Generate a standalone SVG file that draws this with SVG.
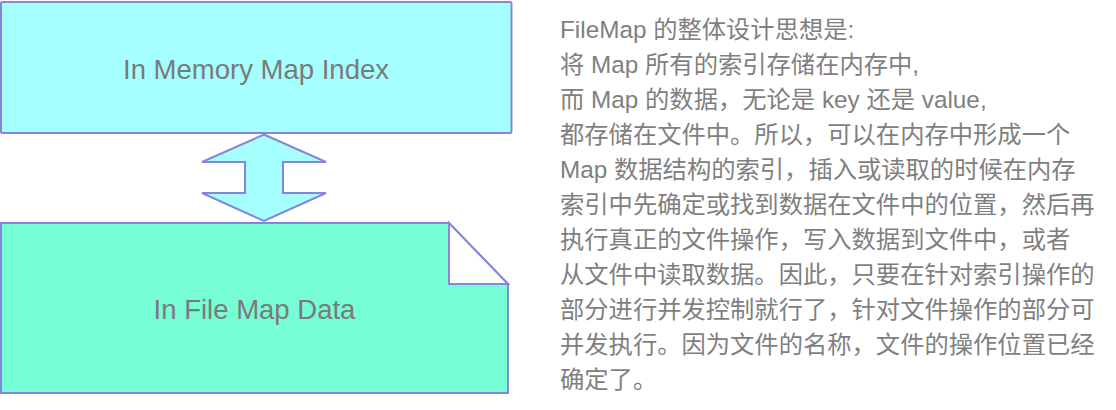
<svg xmlns="http://www.w3.org/2000/svg" width="1116" height="410" viewBox="0 0 1116 410">
<style>
.shape{stroke:#8585DD;stroke-width:2;stroke-linejoin:miter}
.lbl{font-family:"Liberation Sans","Noto Sans CJK SC",sans-serif;font-size:27.5px;fill:#7a7a7a;text-anchor:middle}
.desc{font-family:"Liberation Sans","Noto Sans CJK SC",sans-serif;font-size:24.3px;fill:#7f7f7f}
</style>
<rect width="1116" height="410" fill="#ffffff"/>
<g id="memory-index">
<rect class="shape" x="1" y="2" width="510.5" height="131" rx="1.5" fill="#A6FFFF"/>
<text class="lbl" x="256" y="79">In Memory Map Index</text>
</g>
<g id="connectors">
<path class="shape" d="M264,134.5 L326,162 L283,162 L283,193 L326,193 L264,221 L202,193 L245,193 L245,162 L202,162 Z" fill="#A6FFFF"/>
</g>
<g id="file-data">
<path class="shape" d="M1,223 H449 L508,284 V393 H1 Z" fill="#76FDD6"/>
<path class="shape" d="M449,223 L508,284 H449 Z" fill="#ffffff"/>
<text class="lbl" x="254.5" y="319">In File Map Data</text>
</g>
<g id="description">
<text class="desc" x="560" y="38">FileMap 的整体设计思想是:</text>
<text class="desc" x="560" y="73">将 Map 所有的索引存储在内存中,</text>
<text class="desc" x="560" y="108">而 Map 的数据，无论是 key 还是 value,</text>
<text class="desc" x="560" y="143">都存储在文件中。所以，可以在内存中形成一个</text>
<text class="desc" x="560" y="178">Map 数据结构的索引，插入或读取的时候在内存</text>
<text class="desc" x="560" y="213">索引中先确定或找到数据在文件中的位置，然后再</text>
<text class="desc" x="560" y="248">执行真正的文件操作，写入数据到文件中，或者</text>
<text class="desc" x="560" y="283">从文件中读取数据。因此，只要在针对索引操作的</text>
<text class="desc" x="560" y="318">部分进行并发控制就行了，针对文件操作的部分可</text>
<text class="desc" x="560" y="353">并发执行。因为文件的名称，文件的操作位置已经</text>
<text class="desc" x="560" y="388">确定了。</text>
</g>
</svg>
